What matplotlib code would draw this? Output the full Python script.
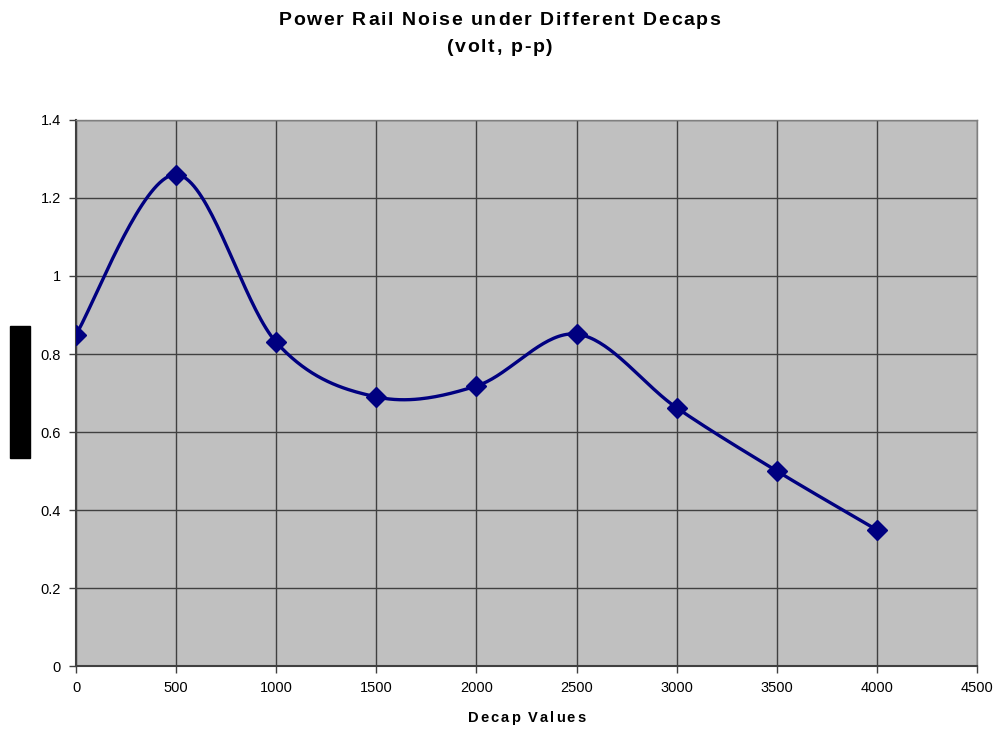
import numpy as np
import matplotlib.pyplot as plt
from matplotlib.patches import Rectangle
from matplotlib.font_manager import FontProperties

plt.rcParams['font.family'] = ['Liberation Sans', 'DejaVu Sans']

# decap value vs. peak-to-peak rail noise
decap = [0, 500, 1000, 1500, 2000, 2500, 3000, 3500, 4000]
noise = [0.85, 1.26, 0.83, 0.69, 0.718, 0.851, 0.662, 0.50, 0.349]
x_ticks = [0, 500, 1000, 1500, 2000, 2500, 3000, 3500, 4000, 4500]
y_ticks = [0, 0.2, 0.4, 0.6, 0.8, 1, 1.2, 1.4]
y_labels = ['0', '0.2', '0.4', '0.6', '0.8', '1', '1.2', '1.4']


def smooth(xs, ys, n=40):
    # Catmull-Rom style smoothing through the points (spreadsheet "smoothed line")
    px = np.array(xs, float)
    py = np.array(ys, float)
    px = np.concatenate([[px[0]], px, [px[-1]]])
    py = np.concatenate([[py[0]], py, [py[-1]]])
    out_x, out_y = [], []
    for i in range(1, len(px) - 2):
        p0, p1, p2, p3 = [np.array([px[j], py[j]]) for j in (i - 1, i, i + 1, i + 2)]
        c1 = p1 + (p2 - p0) / 6
        c2 = p2 - (p3 - p1) / 6
        t = np.linspace(0, 1, n)[:, None]
        b = ((1 - t) ** 3) * p1 + 3 * ((1 - t) ** 2) * t * c1 + 3 * (1 - t) * t ** 2 * c2 + t ** 3 * p2
        out_x.extend(b[:, 0])
        out_y.extend(b[:, 1])
    return out_x, out_y


def spaced_text(fig, s, cx, y, size, gap_px):
    # draw bold text centred on cx (figure fraction) with extra space between letters
    renderer = fig.canvas.get_renderer()
    prop = FontProperties(family='Liberation Sans', weight='bold', size=size)
    widths = []
    for ch in s:
        w, h, d = renderer.get_text_width_height_descent(ch, prop, ismath=False)
        if ch == ' ':
            w = size * 0.278 * fig.dpi / 72
        widths.append(w)
    total = sum(widths) + gap_px * (len(s) - 1)
    W = fig.get_figwidth() * fig.dpi
    x = cx * W - total / 2
    for ch, w in zip(s, widths):
        fig.text(x / W, y, ch, fontproperties=prop, ha='left', va='baseline')
        x += w + gap_px


fig = plt.figure(figsize=(9.99, 7.29), dpi=100)
ax = fig.add_axes([0.0761, 0.0864, 0.9019, 0.749])
ax.set_facecolor('#C0C0C0')

sx, sy = smooth(decap, noise)
ax.plot(sx, sy, color='#000080', linewidth=2.4, zorder=3, solid_capstyle='round')
ax.plot(decap, noise, linestyle='none', marker='D', markersize=10,
        color='#000080', zorder=4)

ax.set_xlim(0, 4500)
ax.set_ylim(0, 1.4)
ax.set_xticks(x_ticks)
ax.set_xticklabels([str(v) for v in x_ticks])
ax.set_yticks(y_ticks)
ax.set_yticklabels(y_labels)
ax.tick_params(direction='out', length=5, width=1, color='#404040',
               labelsize=10.5, pad=6)
ax.grid(True, color='#404040', linewidth=1)
ax.set_axisbelow(True)

for side in ['left', 'bottom']:
    ax.spines[side].set_color('#404040')
    ax.spines[side].set_linewidth(1.5)
for side in ['top', 'right']:
    ax.spines[side].set_color('#808080')
    ax.spines[side].set_linewidth(1)

spaced_text(fig, 'Power Rail Noise under Different Decaps', 0.5, 1 - 25 / 729, 14, 1.7)
spaced_text(fig, '(volt, p-p)', 0.5, 1 - 52 / 729, 14, 1.7)
spaced_text(fig, 'Decap Values', 0.0761 + 0.9019 / 2, 1 - 722 / 729, 10.5, 2.0)

# black box on the left margin
fig.patches.append(Rectangle((0.010, 0.3717), 0.020, 0.181,
                             transform=fig.transFigure, color='black'))

fig.savefig('out.png', dpi=100)
